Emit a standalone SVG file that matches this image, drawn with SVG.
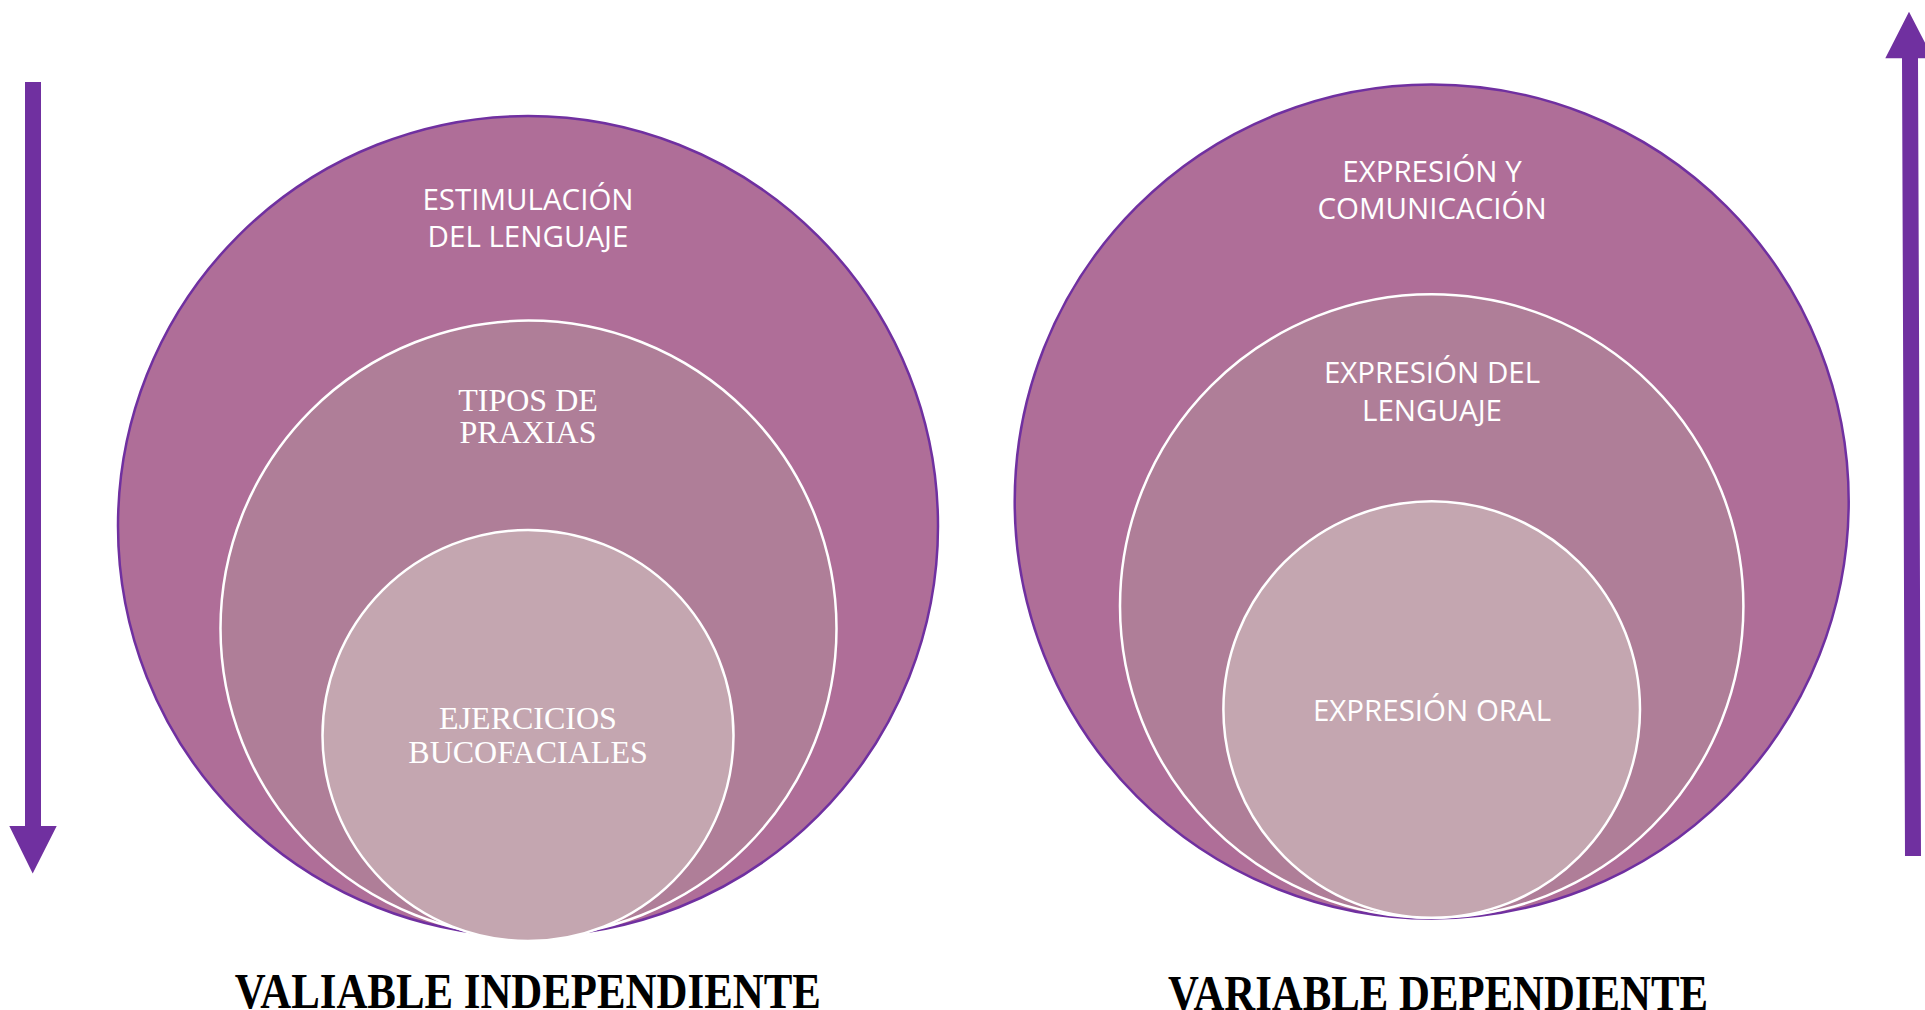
<svg xmlns="http://www.w3.org/2000/svg" width="1925" height="1010" viewBox="0 0 1925 1010">
<style>
.outer{fill:#AF6E98;stroke:#7030A0;stroke-width:2.5}
.mid{fill:#AF7E98;stroke:#FFFFFF;stroke-width:2.5}
.inner{fill:#C4A6B0;stroke:#FFFFFF;stroke-width:2.5}
.sans{font-family:"Open Sans","Liberation Sans",sans-serif;font-size:29.5px;fill:#FFFFFF;text-anchor:middle}
.serif{font-family:"Liberation Serif","Times New Roman",serif;font-size:32px;fill:#FFFFFF;text-anchor:middle}
.title{font-family:"Liberation Serif","Times New Roman",serif;font-weight:bold;font-size:50px;fill:#000000}
.arrow{fill:#7030A0}
</style>
<rect width="1925" height="1010" fill="#FFFFFF"/>
<g id="connectors">
<polygon class="arrow" points="25,82 41,82 41,826 56.7,826 32.7,873.5 9.3,826 25,826"/>
<polygon class="arrow" points="1909,11.7 1933,58.3 1918,58.3 1921,856 1905,856 1902,58.3 1885.3,58.3"/>
</g>
<g id="left-outer">
<circle class="outer" cx="528" cy="526" r="410"/>
<text class="sans" x="528" y="209.7">ESTIMULACIÓN</text>
<text class="sans" x="528" y="247">DEL LENGUAJE</text>
</g>
<g id="left-middle">
<circle class="mid" cx="528.5" cy="628.6" r="308"/>
<text class="serif" x="528" y="411">TIPOS DE</text>
<text class="serif" x="528" y="443">PRAXIAS</text>
</g>
<g id="left-inner">
<circle class="inner" cx="528" cy="735.5" r="205.5"/>
<text class="serif" x="528" y="729">EJERCICIOS</text>
<text class="serif" x="528" y="762.6">BUCOFACIALES</text>
</g>
<g id="right-outer">
<circle class="outer" cx="1431.7" cy="501.5" r="417"/>
<text class="sans" x="1432" y="182">EXPRESIÓN Y</text>
<text class="sans" x="1432" y="219.4">COMUNICACIÓN</text>
</g>
<g id="right-middle">
<circle class="mid" cx="1431.7" cy="606" r="311.7"/>
<text class="sans" x="1432" y="383">EXPRESIÓN DEL</text>
<text class="sans" x="1432" y="420.6">LENGUAJE</text>
</g>
<g id="right-inner">
<circle class="inner" cx="1431.7" cy="709.5" r="208.3"/>
<text class="sans" x="1432" y="720.6">EXPRESIÓN ORAL</text>
</g>
<g id="labels">
<text class="title" x="234.8" y="1008" textLength="586" lengthAdjust="spacingAndGlyphs">VALIABLE INDEPENDIENTE</text>
<text class="title" x="1168" y="1010" textLength="540" lengthAdjust="spacingAndGlyphs">VARIABLE DEPENDIENTE</text>
</g>
</svg>
